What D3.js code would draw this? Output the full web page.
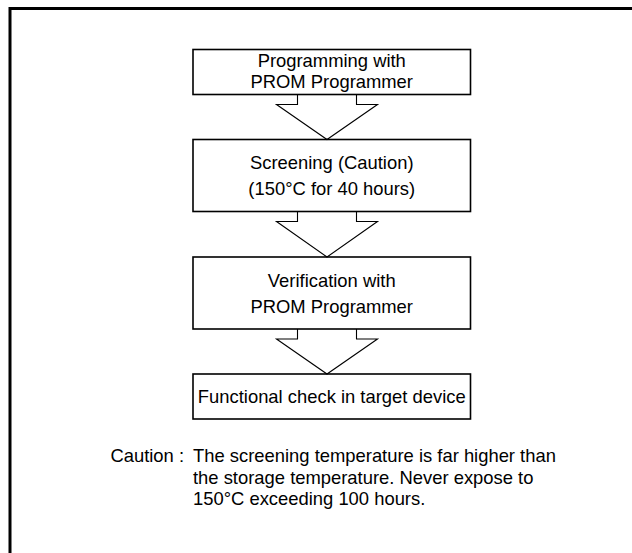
<!DOCTYPE html>
<html>
<head>
<meta charset="utf-8">
<script src="https://cdn.jsdelivr.net/npm/d3@7"></script>
<style>
  body { margin: 0; background: #fff; }
  text { font-family: "Liberation Sans", Arial, sans-serif; fill: #000; }
</style>
</head>
<body>
<div id="graf"></div>
<script>
// datos del diagrama
steps = ['prog', 'screen', 'verify', 'check']
stepLines = [
  ['Programming with', 'PROM Programmer'],
  ['Screening (Caution)', '(150\u00B0C for 40 hours)'],
  ['Verification with', 'PROM Programmer'],
  ['Functional check in target device']
]
cautionLabel = ['Caution :']
cautionLines = [
  'The screening temperature is far higher than',
  'the storage temperature. Never expose to',
  '150\u00B0C exceeding 100 hours.'
]

// layout
ancho_total = 632
alto_total = 553
boxLeft = 193, boxRight = 470.5
boxTop = [49.5, 139.5, 257, 374]
boxH = [45, 72, 72, 45]
lineGap = [21, 25.7, 26, 0]
lineShift = [-0.5, 0, 1, 0]
arrowCx = 327
fontSize = 18.4

svg = d3.select('#graf').append('svg')
  .attr('width', ancho_total)
  .attr('height', alto_total)

// marco exterior (sale por la derecha y por abajo)
svg.append('rect')
  .attr('x', 10).attr('y', 8.5)
  .attr('width', 640).attr('height', 560)
  .attr('fill', 'none')
  .attr('stroke', '#000')
  .attr('stroke-width', 3)

x = d3.scaleLinear().domain([0, 1]).range([boxLeft, boxRight])

g = svg.append('g')

boxes = g.selectAll('g.step')
  .data(steps)
  .join('g')
  .attr('class', 'step')

boxes.append('rect')
  .attr('x', x(0))
  .attr('y', (d, i) => boxTop[i])
  .attr('width', x(1) - x(0))
  .attr('height', (d, i) => boxH[i])
  .attr('fill', '#fff')
  .attr('stroke', '#000')
  .attr('stroke-width', 1.6)

boxes.each(function(d, i) {
  lines = stepLines[i]
  cy = boxTop[i] + boxH[i] / 2 + lineShift[i]
  first = cy - (lines.length - 1) * lineGap[i] / 2
  d3.select(this).selectAll('text')
    .data(lines)
    .join('text')
    .attr('x', x(0.5))
    .attr('y', (t, j) => first + j * lineGap[i] + fontSize * 0.35)
    .attr('text-anchor', 'middle')
    .style('font-size', fontSize + 'px')
    .text(t => t)
})

// flechas entre cajas
arrowPath = (y0, y1) => {
  stem = 10
  return `M${arrowCx - 29.5},${y0} V${y0 + stem} H${arrowCx - 50.5} L${arrowCx},${y1} L${arrowCx + 50.5},${y0 + stem} H${arrowCx + 29.5} V${y0}`
}

g.selectAll('path.arrow')
  .data(steps.slice(1))
  .join('path')
  .attr('class', 'arrow')
  .attr('d', (d, i) => arrowPath(boxTop[i] + boxH[i], boxTop[i + 1]))
  .attr('fill', 'none')
  .attr('stroke', '#000')
  .attr('stroke-width', 1.1)

// nota de precauci칩n
nota = svg.append('g')
nota.selectAll('text.lbl')
  .data(cautionLabel)
  .join('text')
  .attr('class', 'lbl')
  .attr('x', 184).attr('y', 462)
  .attr('text-anchor', 'end')
  .style('font-size', fontSize + 'px')
  .text(d => d)

nota.selectAll('text.ln')
  .data(cautionLines)
  .join('text')
  .attr('class', 'ln')
  .attr('x', 193)
  .attr('y', (d, i) => 462 + i * 21.5)
  .style('font-size', fontSize + 'px')
  .text(d => d)
</script>
</body>
</html>
